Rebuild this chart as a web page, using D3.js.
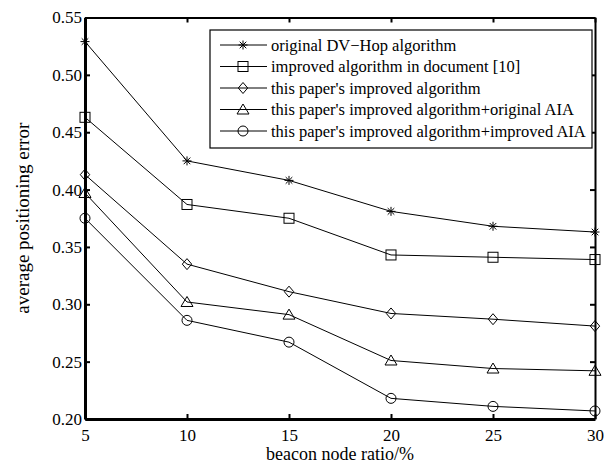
<!DOCTYPE html>
<html>
<head>
<meta charset="utf-8">
<script src="https://cdn.jsdelivr.net/npm/d3@7"></script>
<style>
  body { margin: 0; background: #fff; }
  svg text { font-family: "Liberation Serif", "Times New Roman", serif; fill: #000; }
</style>
</head>
<body>
<div id="chart"></div>
<script>
// x values (beacon node ratio, %)
const ratios = [5, 10, 15, 20, 25, 30];

// series values
const dvHop      = [0.529, 0.425, 0.408, 0.381, 0.368, 0.363];
const doc10      = [0.463, 0.387, 0.375, 0.343, 0.341, 0.339];
const ours       = [0.413, 0.335, 0.311, 0.292, 0.287, 0.281];
const oursAIA    = [0.397, 0.302, 0.291, 0.251, 0.244, 0.242];
const oursImpAIA = [0.375, 0.286, 0.267, 0.218, 0.211, 0.207];

const seriesNames = [
    "original DV\u2212Hop algorithm",
    "improved algorithm in document [10]",
    "this paper's improved algorithm",
    "this paper's improved algorithm+original AIA",
    "this paper's improved algorithm+improved AIA"
];
const markerTypes = ["star", "square", "diamond", "triangle", "circle"];

const xTicks = [5, 10, 15, 20, 25, 30];
const yTicks = [0.20, 0.25, 0.30, 0.35, 0.40, 0.45, 0.50, 0.55];

const allSeries = [dvHop, doc10, ours, oursAIA, oursImpAIA];

// Size of the page and the plot box
const W = 615, H = 463;
const margin = {top: 17.5, right: 20, bottom: 44, left: 85};
const width = W - margin.left - margin.right,
      height = H - margin.top - margin.bottom;

const svg = d3.select("#chart")
    .append("svg")
        .attr("width", W)
        .attr("height", H);

const g = svg.append("g")
    .attr("transform", `translate(${margin.left}, ${margin.top})`);

const x = d3.scaleLinear().domain([5, 30]).range([0, width]);
const y = d3.scaleLinear().domain([0.2, 0.55]).range([height, 0]);

// Draw one marker centred at 0,0
function drawMarker(sel, type) {
    if (type === "star") {
        const r = 4.5, d = 3.3;
        sel.append("path")
            .attr("d", `M${-r},0L${r},0M0,${-r}L0,${r}M${-d},${-d}L${d},${d}M${-d},${d}L${d},${-d}`)
            .attr("stroke", "#000").attr("stroke-width", 1).attr("fill", "none");
    } else if (type === "square") {
        sel.append("rect")
            .attr("x", -5).attr("y", -5).attr("width", 10).attr("height", 10)
            .attr("stroke", "#000").attr("stroke-width", 1).attr("fill", "none");
    } else if (type === "diamond") {
        sel.append("path")
            .attr("d", "M0,-5.5L4.7,0L0,5.5L-4.7,0Z")
            .attr("stroke", "#000").attr("stroke-width", 1).attr("fill", "none");
    } else if (type === "triangle") {
        sel.append("path")
            .attr("d", "M0,-5.5L6,4.5L-6,4.5Z")
            .attr("stroke", "#000").attr("stroke-width", 1).attr("fill", "none");
    } else {
        sel.append("circle")
            .attr("r", 5)
            .attr("stroke", "#000").attr("stroke-width", 1).attr("fill", "none");
    }
}

// Lines
const line = d3.line()
    .x((d, i) => x(ratios[i]))
    .y(d => y(d));

allSeries.forEach((vals, k) => {
    g.append("path")
        .datum(vals)
        .attr("d", line)
        .attr("fill", "none")
        .attr("stroke", "#000")
        .attr("stroke-width", 1);

    vals.forEach((v, i) => {
        const m = g.append("g")
            .attr("transform", `translate(${x(ratios[i])}, ${y(v)})`);
        drawMarker(m, markerTypes[k]);
    });
});

// Axes (ticks pointing inward, MATLAB style)
const xAxis = g.append("g")
    .attr("transform", `translate(0, ${height})`)
    .call(d3.axisBottom(x).tickValues(xTicks).tickSizeInner(-5).tickSizeOuter(0).tickPadding(10));
const yAxis = g.append("g")
    .call(d3.axisLeft(y).tickValues(yTicks).tickFormat(d3.format(".2f")).tickSizeInner(-5).tickSizeOuter(0).tickPadding(3));
g.append("g")
    .call(d3.axisTop(x).tickValues(xTicks).tickSizeInner(-5).tickSizeOuter(0).tickFormat(""));
g.append("g")
    .attr("transform", `translate(${width}, 0)`)
    .call(d3.axisRight(y).tickValues(yTicks).tickSizeInner(-5).tickSizeOuter(0).tickFormat(""));

g.selectAll(".domain").attr("stroke", "#000").attr("stroke-width", 2);
g.selectAll(".tick line").attr("stroke", "#000").attr("stroke-width", 2);
g.selectAll(".tick text")
    .style("font-size", "17px")
    .style("font-family", "'Liberation Serif', 'Times New Roman', serif");
xAxis.select(".domain").attr("stroke-width", 3);
yAxis.select(".domain").attr("stroke-width", 3);

// Axis labels
g.append("text")
    .attr("x", width / 2)
    .attr("y", height + 41)
    .attr("text-anchor", "middle")
    .style("font-size", "18px")
    .text("beacon node ratio/%");

g.append("text")
    .attr("transform", `translate(${22 - margin.left}, ${height / 2}) rotate(-90)`)
    .attr("text-anchor", "middle")
    .attr("dy", "0.35em")
    .style("font-size", "19px")
    .text("average positioning error");

// Legend
const legend = svg.append("g")
    .attr("transform", "translate(210, 30)");
legend.append("rect")
    .attr("width", 382)
    .attr("height", 118)
    .attr("fill", "#fff")
    .attr("stroke", "#000")
    .attr("stroke-width", 1.2);

seriesNames.forEach((name, k) => {
    const row = legend.append("g")
        .attr("transform", `translate(0, ${15 + k * 21.5})`);
    row.append("line")
        .attr("x1", 10).attr("x2", 57)
        .attr("stroke", "#000").attr("stroke-width", 1);
    const m = row.append("g").attr("transform", "translate(33, 0)");
    drawMarker(m, markerTypes[k]);
    row.append("text")
        .attr("x", 61)
        .attr("dy", "0.35em")
        .style("font-size", "16.5px")
        .text(name);
});
</script>
</body>
</html>
